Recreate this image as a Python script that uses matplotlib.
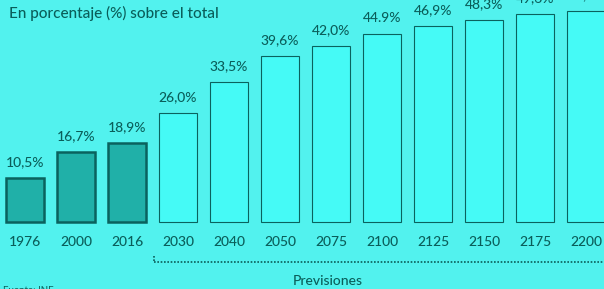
import matplotlib
matplotlib.use("Agg")
import matplotlib.pyplot as plt

years = ["1976", "2000", "2016", "2030", "2040", "2050", "2075", "2100", "2125", "2150", "2175", "2200"]
values = [10.5, 16.7, 18.9, 26.0, 33.5, 39.6, 42.0, 44.9, 46.9, 48.3, 49.6, 50.3]
labels = ["10,5%", "16,7%", "18,9%", "26,0%", "33,5%", "39,6%", "42,0%", "44.9%", "46,9%", "48,3%", "49,6%", "50,3%"]
n_past = 3

bg = "#52f2ee"
past_fill = "#20b0a8"
future_fill = "#45faf6"
edge = "#0a625e"
text_c = "#0a5e5a"

plt.rcParams['font.family'] = ['Lato', 'DejaVu Sans']

fig = plt.figure(figsize=(6.04, 2.89), dpi=100, facecolor=bg)
ax = fig.add_axes([0, 0, 1, 1], facecolor=bg)

x = list(range(len(years)))
fills = [past_fill if i < n_past else future_fill for i in x]
lws = [1.8 if i < n_past else 0.8 for i in x]
ax.bar(x, values, width=0.74, color=fills, edgecolor=edge, linewidth=lws, zorder=2)

for i, (v, lab) in enumerate(zip(values, labels)):
    ax.annotate(lab, (i, v), xytext=(0, 7), textcoords="offset points",
                ha="center", va="bottom", fontsize=10, color=text_c, fontweight="medium")
    ax.text(i, -4.8, years[i], ha="center", va="center", fontsize=10, color=text_c,
            fontweight="medium")

ax.set_xlim(-0.49, 11.35)
ax.set_ylim(-16, 53)
ax.axis("off")

# dotted line for projections
ax.plot([2.52, 11.5], [-9.5, -9.5], linestyle=(0, (1, 1)), color=text_c, linewidth=1.2, clip_on=False)
ax.plot([2.52, 2.52], [-8.2, -9.5], linestyle=(0, (1, 1)), color=text_c, linewidth=1.2)
ax.text(5.94, -14.0, "Previsiones", ha="center", va="center", fontsize=10, color=text_c,
        fontweight="medium")

fig.text(0.015, 0.955, "En porcentaje (%) sobre el total", ha="left", va="center",
         fontsize=11, color=text_c, fontweight="medium")
fig.text(0.005, -0.005, "Fuente: INE", ha="left", va="center", fontsize=7, color=text_c)

fig.savefig("out.png", dpi=100, facecolor=bg)
